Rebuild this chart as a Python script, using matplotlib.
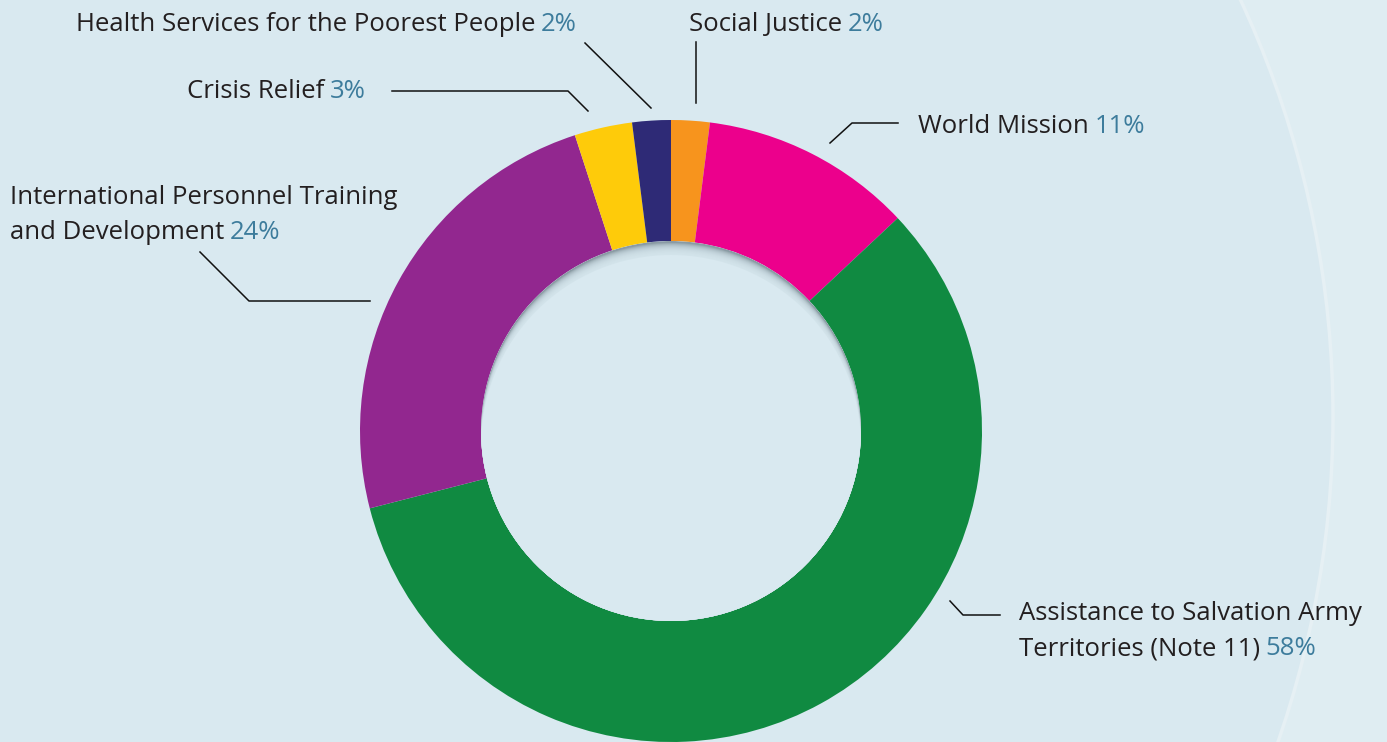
import matplotlib.pyplot as plt
from matplotlib.patches import Circle

# slices, clockwise from the top
labels = ['Social Justice', 'World Mission',
          'Assistance to Salvation Army\nTerritories (Note 11)',
          'International Personnel Training\nand Development',
          'Crisis Relief', 'Health Services for the Poorest People']
values = [2, 11, 58, 24, 3, 2]
colors = ['#f7941d', '#ec008c', '#108a41', '#92278f', '#fecb0a', '#2e2a76']

W, H = 1387, 742
bg = '#d9e9f0'
txt_col = '#231f20'
pct_col = '#3d7c9c'

plt.rcParams['font.family'] = ['Open Sans', 'DejaVu Sans']

fig = plt.figure(figsize=(W / 100, H / 100), dpi=100)
fig.patch.set_facecolor('#dfedf2')
ax = fig.add_axes([0, 0, 1, 1])


def Y(py):
    return H - py


# faint big background circle on the right
ax.add_patch(Circle((346, Y(417)), 987, facecolor=bg, edgecolor='#e6f0f4',
                    lw=2.5, zorder=0))

cx, cy, r = 671, Y(431), 311
ax.pie(values, colors=colors, startangle=90, counterclock=False,
       center=(cx, cy), radius=r, frame=True,
       wedgeprops=dict(width=121, linewidth=0))
ax.set_xlim(0, W)
ax.set_ylim(0, H)
ax.set_aspect('equal')
ax.axis('off')

# inner shadow at the top of the hole
hole = Circle((cx, cy), 190, transform=ax.transData)
base = Circle((cx, cy), 190, facecolor='#8a9ba4', lw=0, zorder=3)
ax.add_patch(base)
base.set_clip_path(hole)
for d in range(2, 14):
    c = Circle((cx, cy - d), 190, facecolor=bg, alpha=0.22, lw=0, zorder=3)
    ax.add_patch(c)
    c.set_clip_path(hole)
c = Circle((cx, cy - 14), 190, facecolor=bg, lw=0, zorder=3)
ax.add_patch(c)
c.set_clip_path(hole)

fs = 18.5


def label(x, y, lines, pct):
    t = None
    for k, line in enumerate(lines):
        t = ax.text(x, Y(y + k * 35), line, fontsize=fs, color=txt_col,
                    ha='left', va='baseline', zorder=6)
    ax.annotate(pct, xy=(1, 0), xycoords=t, xytext=(4, 0),
                textcoords='offset points', fontsize=fs, color=pct_col,
                ha='left', va='bottom', zorder=6)


def leader(pts):
    xs = [p[0] for p in pts]
    ys = [Y(p[1]) for p in pts]
    ax.plot(xs, ys, color='#111111', lw=1.1, zorder=6)


pcts = [f'{v}%' for v in values]
label(689, 31, ['Social Justice'], pcts[0])
leader([(696, 42), (696, 103)])

label(918, 133, ['World Mission'], pcts[1])
leader([(898, 123), (852, 123), (830, 143)])

label(1019, 620, labels[2].split('\n'), pcts[2])
leader([(950, 601), (963, 615), (1000, 615)])

label(10, 204, labels[3].split('\n'), pcts[3])
leader([(200, 252), (249, 301), (370, 301)])

label(187, 98, ['Crisis Relief'], pcts[4])
leader([(392, 91), (568, 91), (588, 111)])

label(76, 31, [labels[5]], pcts[5])
leader([(585, 43), (651, 108)])

fig.savefig('out.png', dpi=100, facecolor=fig.get_facecolor())
